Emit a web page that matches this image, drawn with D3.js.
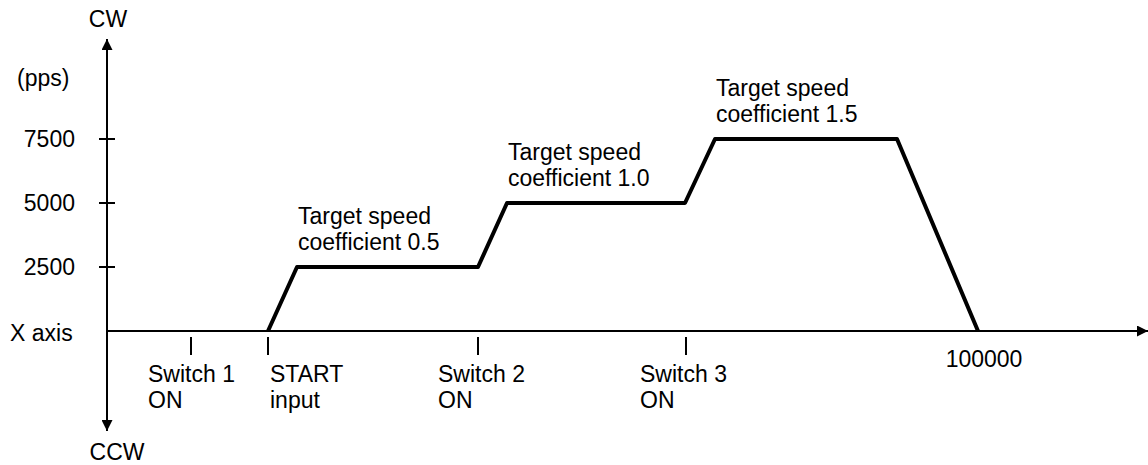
<!DOCTYPE html>
<html>
<head>
<meta charset="utf-8">
<script src="https://cdn.jsdelivr.net/npm/d3@7"></script>
<style>
  body { margin: 0; background: #fff; }
  text { font-family: "Liberation Sans", Arial, sans-serif; fill: #000; }
</style>
</head>
<body>
<div id="viz"></div>
<script>
//data
const speedTicks = [2500, 5000, 7500];
const profileTime = [161, 190, 371, 400, 578, 608, 790, 871];
const profileSpeed = [0, 2500, 2500, 5000, 5000, 7500, 7500, 0];
const eventTime = [84, 161, 371, 579];
const eventLabels = [["Switch 1", "ON"], ["START", "input"], ["Switch 2", "ON"], ["Switch 3", "ON"]];
const targetLabels = [["Target speed", "coefficient 0.5"], ["Target speed", "coefficient 1.0"], ["Target speed", "coefficient 1.5"]];
const targetAt = [1, 3, 5]; // index of profile point where each note sits
const endLabel = "100000";

//dimensions
const width = 1148, height = 465;
const x0 = 107, y0 = 331;
const fs = 23;

const svg = d3.select("#viz")
  .append("svg")
    .attr("width", width)
    .attr("height", height);

const x = d3.scaleLinear().domain([0, 1041]).range([x0, 1148]);
const y = d3.scaleLinear().domain([0, 7500]).range([y0, 139]);

//arrow heads
const defs = svg.append("defs");
defs.append("marker")
    .attr("id", "arr")
    .attr("viewBox", "0 0 10 10")
    .attr("refX", 10).attr("refY", 5)
    .attr("markerUnits", "userSpaceOnUse")
    .attr("markerWidth", 16).attr("markerHeight", 11)
    .attr("orient", "auto")
  .append("path")
    .attr("d", "M0,0 L10,5 L0,10 Z")
    .attr("fill", "#000");

//axes
svg.append("line")
    .attr("x1", x0).attr("y1", y0).attr("x2", x0).attr("y2", 39)
    .attr("stroke", "#000").attr("stroke-width", 2)
    .attr("marker-end", "url(#arr)");
svg.append("line")
    .attr("x1", x0).attr("y1", y0).attr("x2", x0).attr("y2", 431)
    .attr("stroke", "#000").attr("stroke-width", 2)
    .attr("marker-end", "url(#arr)");
svg.append("line")
    .attr("x1", x0).attr("y1", y0).attr("x2", 1148).attr("y2", y0)
    .attr("stroke", "#000").attr("stroke-width", 2)
    .attr("marker-end", "url(#arr)");

//y ticks
svg.selectAll(".ytick")
  .data(speedTicks)
  .join("line")
    .attr("x1", x0 - 8).attr("x2", x0 + 8)
    .attr("y1", d => y(d)).attr("y2", d => y(d))
    .attr("stroke", "#000").attr("stroke-width", 2);

svg.selectAll(".ylab")
  .data(speedTicks)
  .join("text")
    .attr("x", 75)
    .attr("y", d => y(d) + 8)
    .attr("text-anchor", "end")
    .style("font-size", fs + "px")
    .text(d => d);

svg.append("text").attr("x", 108).attr("y", 27).attr("text-anchor", "middle")
    .style("font-size", fs + "px").text("CW");
svg.append("text").attr("x", 117).attr("y", 460).attr("text-anchor", "middle")
    .style("font-size", fs + "px").text("CCW");
svg.append("text").attr("x", 17).attr("y", 86)
    .style("font-size", fs + "px").text("(pps)");
svg.append("text").attr("x", 10).attr("y", 341)
    .style("font-size", fs + "px").text("X axis");

//event ticks
svg.selectAll(".etick")
  .data(eventTime)
  .join("line")
    .attr("x1", d => x(d)).attr("x2", d => x(d))
    .attr("y1", 337).attr("y2", 355)
    .attr("stroke", "#000").attr("stroke-width", 2);

const shift = [-43, 2, -40, -46];
const ev = svg.selectAll(".elab")
  .data(eventTime)
  .join("text")
    .attr("x", (d, i) => x(d) + shift[i])
    .attr("y", 382)
    .style("font-size", fs + "px");
ev.selectAll("tspan")
  .data((d, i) => eventLabels[i])
  .join("tspan")
    .attr("x", function() { return this.parentNode.getAttribute("x"); })
    .attr("dy", (d, j) => j ? 26 : 0)
    .text(d => d);

//speed profile
const line = d3.line()
    .x(d => x(d[0]))
    .y(d => y(d[1]));

svg.append("path")
    .datum(d3.zip(profileTime, profileSpeed))
    .attr("d", line)
    .attr("fill", "none")
    .attr("stroke", "#000")
    .attr("stroke-width", 4)
    .attr("stroke-linejoin", "round");

//target speed notes
const tn = svg.selectAll(".tlab")
  .data(targetAt)
  .join("text")
    .attr("x", d => x(profileTime[d]) + 1)
    .attr("y", d => y(profileSpeed[d]) - 43)
    .style("font-size", fs + "px");
tn.selectAll("tspan")
  .data((d, i) => targetLabels[i])
  .join("tspan")
    .attr("x", function() { return this.parentNode.getAttribute("x"); })
    .attr("dy", (d, j) => j ? 26 : 0)
    .text(d => d);

svg.append("text")
    .attr("x", x(profileTime[profileTime.length - 1]) + 6)
    .attr("y", 367)
    .attr("text-anchor", "middle")
    .style("font-size", fs + "px")
    .text(endLabel);
</script>
</body>
</html>
